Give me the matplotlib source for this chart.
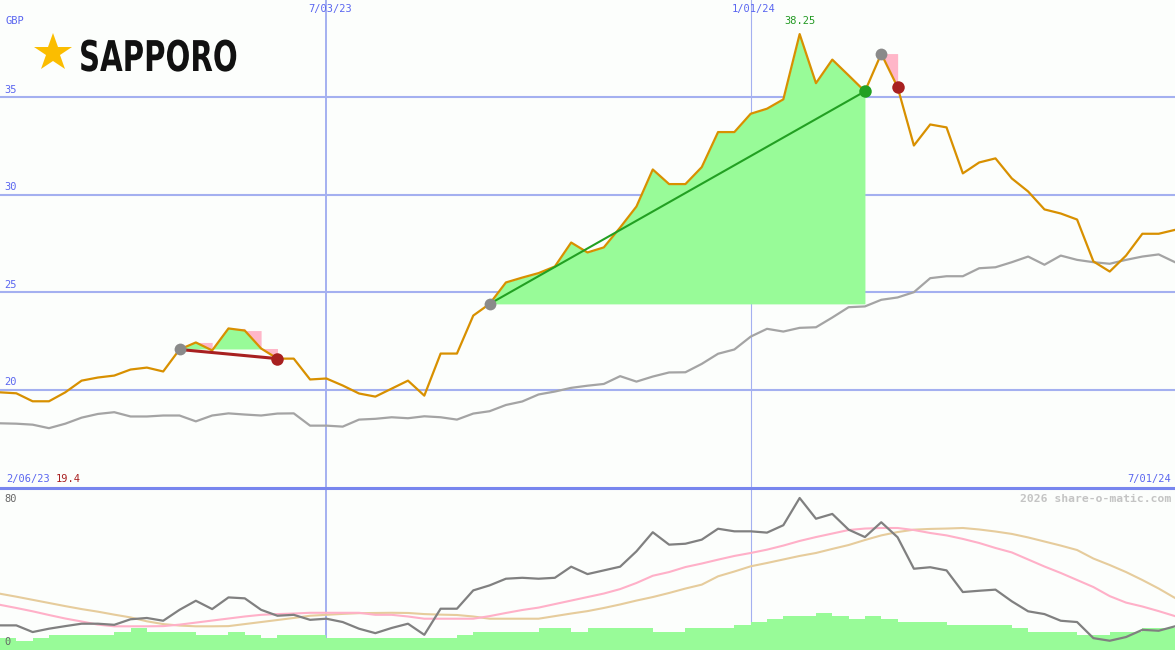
import numpy as np
import pandas as pd
import matplotlib
matplotlib.use("Agg")
import matplotlib.pyplot as plt
from matplotlib.transforms import blended_transform_factory, Affine2D
from matplotlib.patheffects import AbstractPathEffect

# weekly closes, 13 Feb 2023 .. 1 Jul 2024
dates = pd.date_range("2023-02-13", periods=73, freq="7D")

price = [
    19.86, 19.81, 19.40, 19.40, 19.86, 20.46, 20.62, 20.72, 21.03, 21.13,
    20.93, 22.06, 22.42, 22.01, 23.14, 23.03, 22.11, 21.59, 21.59, 20.52,
    20.57, 20.21, 19.80, 19.64, 20.05, 20.46, 19.69, 21.85, 21.85, 23.80,
    24.40, 25.50, 25.75, 25.98, 26.32, 27.55, 27.04, 27.30, 28.32, 29.40,
    31.30, 30.55, 30.55, 31.42, 33.22, 33.22, 34.16, 34.42, 34.90, 38.25,
    35.73, 36.94, 36.13, 35.31, 37.24, 35.53, 32.53, 33.61, 33.46, 31.10,
    31.66, 31.87, 30.84, 30.17, 29.25, 29.04, 28.73, 26.58, 26.06, 26.88,
    28.00, 28.00, 28.20,
]

average = [
    18.27, 18.25, 18.20, 18.02, 18.25, 18.56, 18.75, 18.84, 18.62, 18.62,
    18.67, 18.67, 18.37, 18.67, 18.78, 18.72, 18.67, 18.77, 18.78, 18.15,
    18.15, 18.10, 18.46, 18.50, 18.58, 18.53, 18.63, 18.58, 18.46, 18.77,
    18.89, 19.21, 19.39, 19.75, 19.90, 20.09, 20.20, 20.29, 20.69, 20.41,
    20.67, 20.88, 20.89, 21.32, 21.84, 22.06, 22.72, 23.12, 22.98, 23.17,
    23.20, 23.70, 24.23, 24.27, 24.61, 24.73, 25.00, 25.72, 25.82, 25.82,
    26.23, 26.28, 26.54, 26.83, 26.41, 26.88, 26.66, 26.54, 26.46, 26.66,
    26.83, 26.94, 26.54,
]

rsi = [
    12.8, 12.8, 9.2, 11.0, 12.4, 13.7, 13.7, 13.1, 16.1, 16.8,
    15.3, 21.2, 26.1, 21.6, 27.9, 27.4, 21.2, 18.0, 18.5, 15.8,
    16.4, 14.6, 11.0, 8.6, 11.4, 13.7, 7.7, 21.8, 21.8, 31.7,
    34.4, 38.0, 38.5, 38.0, 38.5, 44.5, 40.5, 42.5, 44.5, 52.8,
    63.1, 56.4, 56.9, 59.1, 65.0, 63.6, 63.6, 62.9, 66.9, 81.6,
    70.4, 73.0, 64.5, 60.5, 68.5, 60.4, 43.4, 44.2, 42.5, 30.8,
    31.5, 32.1, 25.8, 20.4, 18.9, 15.3, 14.6, 5.9, 4.5, 6.5,
    10.4, 9.9, 12.3,
]

rsi_fast = [
    23.9, 22.2, 20.4, 18.4, 16.5, 14.9, 13.2, 12.3, 12.3, 12.3,
    12.4, 13.2, 14.3, 15.4, 16.5, 17.6, 18.5, 18.9, 19.2, 19.6,
    19.6, 19.6, 19.6, 18.5, 18.5, 17.6, 16.4, 16.4, 16.4, 16.4,
    17.8, 19.5, 21.1, 22.4, 24.3, 26.2, 28.1, 30.0, 32.4, 35.7,
    39.6, 41.6, 44.3, 46.2, 48.3, 50.3, 51.9, 53.7, 55.9, 58.4,
    60.5, 62.4, 64.3, 65.1, 65.4, 65.4, 64.3, 62.7, 61.4, 59.5,
    57.3, 54.6, 52.2, 48.4, 44.6, 41.1, 37.3, 33.5, 28.6, 25.1,
    23.0, 20.5, 17.8,
]

rsi_slow = [
    29.9, 28.3, 26.6, 24.9, 23.2, 21.6, 20.2, 18.6, 17.1, 15.0,
    13.5, 12.7, 12.3, 12.3, 12.4, 13.5, 14.6, 15.7, 16.8, 18.0,
    18.5, 19.0, 19.4, 19.5, 19.6, 19.5, 18.9, 18.6, 18.4, 17.6,
    16.4, 16.4, 16.4, 16.4, 17.8, 19.2, 20.5, 22.2, 24.1, 26.2,
    28.1, 30.3, 32.7, 34.8, 39.3, 41.9, 44.7, 46.5, 48.4, 50.3,
    51.9, 54.1, 56.2, 58.9, 61.4, 63.2, 64.5, 64.9, 65.1, 65.4,
    64.6, 63.5, 62.2, 60.3, 58.1, 55.9, 53.5, 48.9, 45.4, 41.6,
    37.3, 32.7, 27.6,
]

volume = [
    4, 3, 4, 5, 5, 5, 5, 6, 7, 6,
    6, 6, 5, 5, 6, 5, 4, 5, 5, 5,
    4, 4, 4, 4, 4, 4, 4, 4, 5, 6,
    6, 6, 6, 7, 7, 6, 7, 7, 7, 7,
    6, 6, 7, 7, 7, 8, 9, 10, 11, 11,
    12, 11, 10, 11, 10, 9, 9, 9, 8, 8,
    8, 8, 7, 6, 6, 6, 5, 5, 6, 6,
    7, 7, 7,
]

trade_entry = ["2023-05-01", "2023-09-11", "2024-02-26"]
trade_exit = ["2023-06-12", "2024-02-19", "2024-03-04"]

marker_dates = ["2023-07-03", "2024-01-01"]
start_label = "2/06/23"
currency = "GBP"
price_ticks = [20, 25, 30, 35]

bg = "#fcfefc"
grid_col = "#a4b0f0"
label_col = "#5a66f0"
gold = "#d89000"
up_fill = "#98fb98"
down_fill = "#ffb6c8"
mono = "DejaVu Sans Mono"

x = np.arange(len(dates))
price = np.array(price)


class Squeeze(AbstractPathEffect):
    # narrow the glyphs horizontally around a fixed pixel x
    def __init__(self, sx, x0):
        super().__init__()
        self.sx = sx
        self.x0 = x0

    def draw_path(self, renderer, gc, tpath, affine, rgbFace=None):
        t = affine + Affine2D().translate(-self.x0, 0).scale(self.sx, 1).translate(self.x0, 0)
        renderer.draw_path(gc, tpath, t, rgbFace)


def fmt(d):
    return f"{d.month}/{d.day:02d}/{d.year % 100}"


def pos(s):
    return dates.get_loc(pd.Timestamp(s))


fig = plt.figure(figsize=(11.75, 6.5), dpi=100)
fig.patch.set_facecolor(bg)

ax = fig.add_axes([0, 1 - 487 / 650, 1, 487 / 650])
ax2 = fig.add_axes([0, 0, 1, 162 / 650])

for a in (ax, ax2):
    a.set_facecolor(bg)
    a.set_xlim(0, len(dates) - 1)
    a.set_xticks([])
    a.set_yticks([])
    for s in a.spines.values():
        s.set_visible(False)

ax.set_ylim(15, 40)
ax2.set_ylim(-0.5, 87)

# grid
for v in price_ticks:
    ax.axhline(v, color=grid_col, lw=1.5, zorder=1)
tr = blended_transform_factory(ax.transAxes, ax.transData)
for v in price_ticks:
    ax.text(0.004, v + 0.12, str(v), transform=tr, fontsize=7.5,
            family=mono, color=label_col, va="bottom", ha="left")
ax.text(0.005, 0.957, currency, transform=ax.transAxes, fontsize=7.5,
        family=mono, color=label_col, va="center")

for k, d in enumerate(marker_dates):
    i = pos(d)
    w = 1.4 if k == 0 else 0.8
    ax.axvline(i, color=grid_col, lw=w, zorder=1)
    ax2.axvline(i, color=grid_col, lw=w, zorder=1)
    ax.text(i + 0.2, 0.981, fmt(dates[i]),
            transform=blended_transform_factory(ax.transData, ax.transAxes),
            fontsize=7.5, family=mono, color=label_col, ha="center", va="center")

# separator between panels
fig.add_artist(plt.Line2D([0, 1], [1 - 487.5 / 650] * 2, transform=fig.transFigure,
                          color="#7886ee", lw=2.2))

# trades: gain above entry in green, falling weeks of losing trades in pink
for e, q in zip(trade_entry, trade_exit):
    i0, i1 = pos(e), pos(q)
    xs = x[i0:i1 + 1]
    ys = price[i0:i1 + 1]
    lvl = price[i0]
    ax.fill_between(xs, ys, lvl, where=ys >= lvl, interpolate=True,
                    color=up_fill, lw=0, zorder=2)
    ax.fill_between(xs, ys, lvl, where=ys <= lvl, interpolate=True,
                    color=down_fill, lw=0, zorder=2)
    if price[i1] < lvl:
        for j in range(i0, i1):
            if price[j + 1] < price[j]:
                ax.fill_between(x[j:j + 2], price[j:j + 2], price[j],
                                color=down_fill, lw=0, zorder=2)

ax.plot(x, average, color="#a4a4a4", lw=1.6, zorder=3)
ax.plot(x, price, color=gold, lw=1.6, zorder=4)

for e, q in zip(trade_entry, trade_exit):
    i0, i1 = pos(e), pos(q)
    lvl = price[i0]
    win = price[i1] > lvl
    col = "#22a022" if win else "#a82020"
    if i1 - i0 > 1:
        ax.plot([i0, i1], [lvl, price[i1]], color=col, lw=1.5 if win else 2.2, zorder=5)
    ax.plot(i0, lvl, "o", color="#8a8a8a", ms=8.5, mew=0, zorder=6)
    ax.plot(i1, price[i1], "o", color=col, ms=9, mew=0, zorder=6)

# high / low labels
hi = int(np.argmax(price))
ax.annotate(f"{price[hi]:.2f}", (hi, price[hi]), xytext=(0, 6),
            textcoords="offset points", ha="center", va="bottom",
            fontsize=7.5, family=mono, color="#229922")
ax.text(0.005, 0.006, start_label, transform=ax.transAxes, fontsize=7.5,
        family=mono, color=label_col, va="bottom")
ax.text(0.047, 0.006, f"{price.min():.1f}", transform=ax.transAxes, fontsize=7.5,
        family=mono, color="#a82020", va="bottom")
ax.text(0.997, 0.006, fmt(dates[-1]), transform=ax.transAxes, fontsize=7.5,
        family=mono, color=label_col, va="bottom", ha="right")

# logo
ax.plot([0.045], [0.892], marker="*", ms=29, color="#fbbd00", mew=0,
        transform=ax.transAxes, clip_on=False, zorder=7)
logo = fig.text(79 / 1175, 1 - 71 / 650, "SAPPORO", fontsize=30.5, fontweight="bold",
                family="DejaVu Sans", color="#111111", va="baseline")
logo.set_path_effects([Squeeze(0.69, 79)])

# lower panel
ax2.bar(x, np.array(volume) * 1.665, width=1.0, align="edge", bottom=-0.5,
        color=up_fill, lw=0, zorder=1)
ax2.plot(x, rsi_slow, color="#e6cc9c", lw=1.5, zorder=2)
ax2.plot(x, rsi_fast, color="#ffb0c8", lw=1.5, zorder=2)
ax2.plot(x, rsi, color="#808080", lw=1.6, zorder=3)

ax2.text(0.004, 0.93, "80", transform=ax2.transAxes, fontsize=7.5,
         family=mono, color="#666666", va="center")
ax2.text(0.004, 0.05, "0", transform=ax2.transAxes, fontsize=7.5,
         family=mono, color="#666666", va="center")
ax2.text(0.997, 0.93, "2026 share-o-matic.com", transform=ax2.transAxes,
         fontsize=8.2, fontweight="bold", family=mono, color="#c4c4c4",
         va="center", ha="right")

fig.savefig("out.png", dpi=100, facecolor=bg)
